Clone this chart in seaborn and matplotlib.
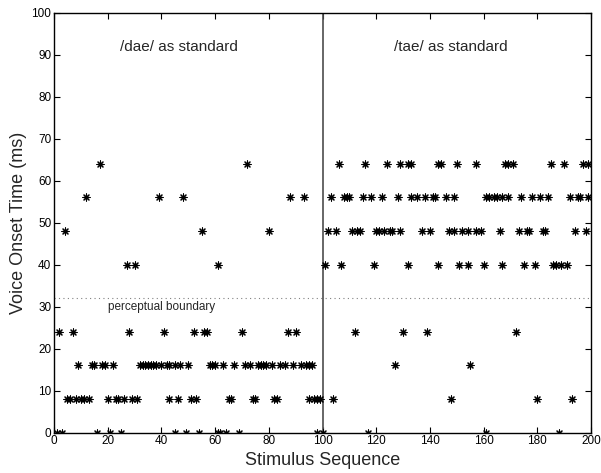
import numpy as np
import pandas as pd
import matplotlib
matplotlib.use("Agg")
import matplotlib.pyplot as plt
import seaborn as sns

# stimulus numbers (x) at each voice onset time level (ms)
x_vot0 = [1, 3, 16, 21, 25, 45, 49, 54, 61, 62, 64, 69, 98, 100, 117, 161, 188]
x_vot8 = [5, 6, 8, 10, 11, 13, 20, 23, 24, 26, 29, 31, 43, 46, 51, 53, 65, 66,
          74, 75, 82, 83, 95, 97, 98, 99, 104, 148, 180, 193]
x_vot16 = [9, 14, 15, 18, 19, 22, 32, 33, 34, 35, 36, 37, 38, 40, 42, 43, 45, 47,
           50, 58, 59, 60, 63, 67, 71, 73, 76, 77, 78, 79, 81, 84, 86, 89, 92,
           94, 95, 96, 127, 155]
x_vot24 = [2, 7, 28, 41, 52, 56, 57, 70, 87, 90, 112, 130, 139, 172]
x_vot40 = [27, 30, 61, 101, 107, 119, 132, 143, 151, 154, 160, 167, 175, 179,
           186, 187, 189, 191]
x_vot48 = [4, 55, 80, 102, 105, 111, 113, 114, 120, 121, 123, 125, 126, 129, 137,
           140, 147, 149, 152, 154, 157, 159, 166, 173, 176, 177, 182, 183, 194, 198]
x_vot56 = [12, 39, 48, 88, 93, 103, 108, 109, 110, 115, 118, 122, 128, 133, 135,
           138, 141, 142, 146, 149, 161, 162, 164, 165, 167, 169, 174, 178, 181,
           184, 192, 195, 196, 199]
x_vot64 = [17, 72, 106, 116, 124, 129, 132, 133, 143, 144, 150, 157, 168, 169,
           171, 185, 190, 197, 199]

vot_levels = [0, 8, 16, 24, 40, 48, 56, 64]
x_lists = [x_vot0, x_vot8, x_vot16, x_vot24, x_vot40, x_vot48, x_vot56, x_vot64]

boundary = 32
switch_point = 100
block_labels = ["/dae/ as standard", "/tae/ as standard"]

df = pd.concat([pd.DataFrame({"stimulus": xs, "vot": v})
                for xs, v in zip(x_lists, vot_levels)], ignore_index=True)

sns.set_style("ticks")
plt.rcParams["font.family"] = ["Liberation Sans", "DejaVu Sans"]
plt.rcParams["xtick.direction"] = "in"
plt.rcParams["ytick.direction"] = "in"

fig = plt.figure(figsize=(6.01, 4.73), dpi=100)
ax = fig.add_axes([0.0899, 0.0852, 0.8935, 0.888])

# asterisk markers, MATLAB style
sns.scatterplot(data=df, x="stimulus", y="vot", marker=(8, 2, 0), color="black",
                s=26, linewidth=0.8, ax=ax, legend=False, zorder=3)

ax.axvline(switch_point, color="0.3", lw=1.2, zorder=2)
ax.axhline(boundary, color="0.5", lw=0.8, linestyle=(0, (1, 3)), zorder=1)

ax.text(24.6, 91.8, block_labels[0], fontsize=11, va="center", ha="left")
ax.text(126.6, 91.8, block_labels[1], fontsize=11, va="center", ha="left")
ax.text(20.1, 29.9, "perceptual boundary", fontsize=8.5, va="center", ha="left")

ax.set_xlim(0, 200)
ax.set_ylim(0, 100)
ax.set_xticks(np.arange(0, 201, 20))
ax.set_yticks(np.arange(0, 101, 10))
ax.tick_params(top=True, right=True, length=4, width=0.8, labelsize=8.5,
               pad=2, colors="black")
for spine in ax.spines.values():
    spine.set_visible(True)
    spine.set_color("black")
    spine.set_linewidth(1.0)

ax.set_xlabel("Stimulus Sequence", fontsize=13, labelpad=3)
ax.set_ylabel("Voice Onset Time (ms)", fontsize=13, labelpad=3)

fig.savefig("out.png", dpi=100)
